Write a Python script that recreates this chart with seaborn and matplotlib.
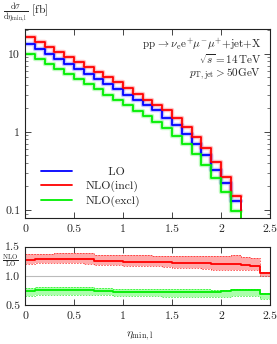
import numpy as np
import pandas as pd
import matplotlib
matplotlib.use("Agg")
import matplotlib.pyplot as plt
import seaborn as sns

# top panel: d sigma / d eta_min,l [fb], bins of 0.1 from 0 to 2.2
eta_edges = np.linspace(0, 2.2, 23)
lo = [13.2, 11.4, 9.9, 8.5, 7.4, 6.35, 5.5, 4.75, 4.1, 3.5, 3.0,
      2.6, 2.2, 1.9, 1.5, 1.22, 0.93, 0.70, 0.51, 0.33, 0.22, 0.13]
nlo_incl = [16.6, 14.1, 12.4, 10.6, 9.2, 7.9, 6.8, 5.9, 5.0, 4.3, 3.6,
            3.05, 2.6, 2.2, 1.9, 1.52, 1.16, 0.87, 0.63, 0.41, 0.267, 0.153]
nlo_excl = [9.86, 8.5, 7.4, 6.35, 5.5, 4.7, 4.05, 3.5, 3.0, 2.55, 2.2,
            1.85, 1.6, 1.35, 1.11, 0.89, 0.70, 0.52, 0.38, 0.26, 0.169, 0.098]

# ratio panel: NLO/LO, bins of 0.1 from 0 to 2.5
ratio_edges = np.linspace(0, 2.5, 26)
incl_c = [1.27, 1.28, 1.28, 1.28, 1.29, 1.28, 1.28, 1.25, 1.25, 1.25, 1.24, 1.24, 1.24,
          1.23, 1.23, 1.22, 1.22, 1.21, 1.21, 1.20, 1.20, 1.20, 1.19, 1.17, 1.04]
incl_hi = [1.37, 1.38, 1.38, 1.39, 1.39, 1.39, 1.39, 1.36, 1.36, 1.36, 1.35, 1.35, 1.35,
           1.34, 1.34, 1.33, 1.33, 1.33, 1.33, 1.33, 1.34, 1.35, 1.32, 1.31, 1.07]
incl_lo = [1.20, 1.21, 1.21, 1.21, 1.21, 1.21, 1.20, 1.19, 1.19, 1.18, 1.17, 1.17, 1.16,
           1.16, 1.15, 1.14, 1.14, 1.13, 1.12, 1.10, 1.10, 1.10, 1.09, 1.09, 1.00]
excl_c = [0.74, 0.75, 0.75, 0.76, 0.76, 0.76, 0.76, 0.74, 0.74, 0.73, 0.73, 0.73, 0.72,
          0.72, 0.72, 0.72, 0.72, 0.72, 0.73, 0.72, 0.74, 0.75, 0.75, 0.76, 0.68]
excl_hi = [0.79, 0.80, 0.80, 0.80, 0.80, 0.80, 0.80, 0.79, 0.79, 0.78, 0.78, 0.78, 0.78,
           0.77, 0.77, 0.77, 0.77, 0.77, 0.77, 0.76, 0.76, 0.77, 0.77, 0.77, 0.71]
excl_lo = [0.66, 0.67, 0.67, 0.67, 0.67, 0.67, 0.67, 0.67, 0.67, 0.66, 0.66, 0.66, 0.65,
           0.65, 0.64, 0.64, 0.64, 0.63, 0.64, 0.63, 0.64, 0.66, 0.65, 0.65, 0.60]

series = ["LO", "NLO(incl)", "NLO(excl)"]
legend_labels = ["      LO", "NLO(incl)", "NLO(excl)"]
colors = {"LO": "#0000ff", "NLO(incl)": "#ff0000", "NLO(excl)": "#00ee00"}

sns.set_theme(style="ticks")
plt.rcParams["font.family"] = "serif"
plt.rcParams["font.serif"] = ["cmr10", "DejaVu Serif"]
plt.rcParams["mathtext.fontset"] = "cm"
plt.rcParams["axes.formatter.use_mathtext"] = True
plt.rcParams["axes.unicode_minus"] = False

fig = plt.figure(figsize=(2.77, 3.44), dpi=100)
ax1 = fig.add_axes([0.0903, 0.3663, 0.8845, 0.548])
ax2 = fig.add_axes([0.0903, 0.1134, 0.8845, 0.170])

# long table for the step histograms (last value repeated to close the last bin)
rows = []
for name, vals in zip(series, [lo, nlo_incl, nlo_excl]):
    for x, v in zip(eta_edges, list(vals) + [vals[-1]]):
        rows.append({"eta": x, "val": v, "series": name})
df = pd.DataFrame(rows)

ymin, ymax = 0.079, 20.5
# light halo under each line
sns.lineplot(data=df, x="eta", y="val", hue="series", palette=colors, drawstyle="steps-post",
             estimator=None, sort=False, lw=3.2, alpha=0.25, legend=False, ax=ax1)
sns.lineplot(data=df, x="eta", y="val", hue="series", palette=colors, drawstyle="steps-post",
             estimator=None, sort=False, lw=1.3, ax=ax1)
for name, vals in zip(series, [lo, nlo_incl, nlo_excl]):
    ax1.vlines(eta_edges[-1], ymin, vals[-1], color=colors[name], lw=1.3)

ax1.set_yscale("log")
ax1.set_xlim(0, 2.5)
ax1.set_ylim(ymin, ymax)
ax1.set_yticks([0.1, 1, 10])
ax1.set_yticklabels(["0.1", "1", "10"])
ax1.set_xticks([0, 0.5, 1, 1.5, 2, 2.5])
ax1.set_xticklabels(["0", "0.5", "1", "1.5", "2", "2.5"])
ax1.set_xlabel("")
ax1.set_ylabel("")

handles, _ = ax1.get_legend_handles_labels()
ax1.legend(handles, legend_labels, loc="lower left", bbox_to_anchor=(0.02, 0.0), frameon=False,
           fontsize=8.5, handlelength=2.7, handletextpad=1.1, labelspacing=0.3)

ax1.text(0.965, 0.918, r"pp$\,\rightarrow\nu_{\rm e}{\rm e}^{+}\mu^{-}\mu^{+}$+jet+X",
         transform=ax1.transAxes, ha="right", va="center", fontsize=8)
ax1.text(0.965, 0.842, r"$\sqrt{s}=14\,$TeV", transform=ax1.transAxes,
         ha="right", va="center", fontsize=8)
ax1.text(0.965, 0.765, r"$p_{\rm T,jet}>50$GeV", transform=ax1.transAxes,
         ha="right", va="center", fontsize=8)

# ratio panel
ax2.axhline(1.0, color="#bbbbbb", lw=0.8)
for c, hi, lo_, col, fill in [(incl_c, incl_hi, incl_lo, "#ff0000", "#ffaaaa"),
                               (excl_c, excl_hi, excl_lo, "#00ee00", "#aaffaa")]:
    hi_s = list(hi) + [hi[-1]]
    lo_s = list(lo_) + [lo_[-1]]
    ax2.fill_between(ratio_edges, lo_s, hi_s, step="post", color=fill, lw=0)
    ax2.step(ratio_edges, hi_s, where="post", color=col, lw=0.6, ls=(0, (2, 1.5)), alpha=0.7)
    ax2.step(ratio_edges, lo_s, where="post", color=col, lw=0.6, ls=(0, (2, 1.5)), alpha=0.7)
    rdf = pd.DataFrame({"eta": ratio_edges, "r": list(c) + [c[-1]]})
    sns.lineplot(data=rdf, x="eta", y="r", color=col, drawstyle="steps-post",
                 estimator=None, sort=False, lw=1.3, ax=ax2)

ax2.set_xlim(0, 2.5)
ax2.set_ylim(0.5, 1.5)
ax2.set_yticks([0.5, 1.0, 1.5])
ax2.set_yticklabels(["0.5", "1.0", "1.5"])
ax2.set_xticks([0, 0.5, 1, 1.5, 2, 2.5])
ax2.set_xticklabels(["0", "0.5", "1", "1.5", "2", "2.5"])
ax2.set_xlabel("")
ax2.set_ylabel("")

for ax in (ax1, ax2):
    ax.tick_params(which="both", direction="in", top=True, right=True, labelsize=8.5,
                   color="#444444")
    ax.tick_params(which="major", length=4, width=0.7)
    ax.tick_params(which="minor", length=2, width=0.5)
    for s in ax.spines.values():
        s.set_linewidth(0.8)
        s.set_color("#222222")
ax1.tick_params(axis="x", pad=5)
ax2.tick_params(axis="x", pad=5)

fig.text(0.012, 0.962, r"$\frac{{\rm d}\sigma}{{\rm d}\eta_{\rm min,l}}$ [fb]",
         ha="left", va="center", fontsize=8.5)
fig.text(0.008, 0.2395, r"$\frac{\rm NLO}{\rm LO}$", ha="left", va="center", fontsize=7)
fig.text(0.505, 0.025, r"$\eta_{\rm min,l}$", ha="center", va="center", fontsize=8.5)

fig.savefig("out.png", dpi=100)
